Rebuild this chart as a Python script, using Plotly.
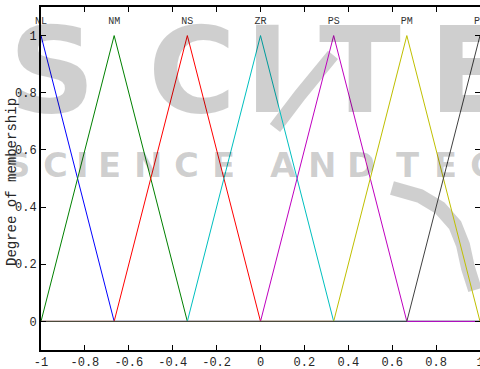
import plotly.graph_objects as go

# ---- data ----
mf_names = ["NL", "NM", "NS", "ZR", "PS", "PM", "PL"]
mf_left = [-1.3333, -1.0, -0.6667, -0.3333, 0.0, 0.3333, 0.6667]
mf_peak = [-1.0, -0.6667, -0.3333, 0.0, 0.3333, 0.6667, 1.0]
mf_right = [-0.6667, -0.3333, 0.0, 0.3333, 0.6667, 1.0, 1.3333]
mf_colors = ["#0000ff", "#008000", "#ff0000", "#00bfbf", "#bf00bf", "#bfbf00", "#404040"]

x_ticks = [-1, -0.8, -0.6, -0.4, -0.2, 0, 0.2, 0.4, 0.6, 0.8, 1]
x_tick_labels = ["-1", "-0.8", "-0.6", "-0.4", "-0.2", "0", "0.2", "0.4", "0.6", "0.8", "1"]
y_ticks = [0, 0.2, 0.4, 0.6, 0.8, 1]
y_tick_labels = ["0", "0.2", "0.4", "0.6", "0.8", "1"]
y_title = "Degree of membership"
label_height = 1.05

# watermark letters (text, pixel x, pixel y)
wm_row1 = [("S", 52, 70), ("C", 192, 70), ("I", 267, 70), ("T", 360, 70), ("E", 470, 70)]
wm_row2 = [("S", 18), ("C", 55), ("I", 82), ("E", 109), ("N", 148), ("C", 186), ("E", 223),
           ("A", 283), ("N", 322), ("D", 361), ("T", 408), ("E", 445), ("C", 482)]

W, H = 480, 369
ML, MR, MT, MB = 41, 0, 7, 19
PW, PH = W - ML - MR, H - MT - MB
WM = "rgba(0,0,0,0.19)"

def px2paper(px, py):
    return (px - ML) / PW, (H - MB - py) / PH

MONO = "Liberation Mono, Courier New, monospace"
fig = go.Figure()

for name, a, b, c, col in zip(mf_names, mf_left, mf_peak, mf_right, mf_colors):
    fig.add_trace(go.Scatter(
        x=[-1.5, a, b, c, 1.5], y=[0, 0, 1, 0, 0],
        mode="lines", line=dict(color=col, width=1), name=name,
        showlegend=False, hoverinfo="skip"))

fig.add_trace(go.Scatter(
    x=mf_peak, y=[label_height] * len(mf_peak), text=mf_names,
    mode="text", textposition="middle center", cliponaxis=False,
    textfont=dict(family=MONO, size=10, color="#333333"),
    showlegend=False, hoverinfo="skip"))

# invisible right axis to carry the mirrored ticks without an axis line
fig.add_trace(go.Scatter(x=[None], y=[None], yaxis="y2", showlegend=False, hoverinfo="skip"))

annotations = []
for ch, px, py in wm_row1:
    x, y = px2paper(px, py)
    annotations.append(dict(text=ch, x=x, y=y, xref="paper", yref="paper",
                            xanchor="center", yanchor="middle", showarrow=False,
                            font=dict(family="DejaVu Sans", size=120, color=WM, weight="bold")))
for ch, px in wm_row2:
    x, y = px2paper(px, 165)
    annotations.append(dict(text=ch, x=x, y=y, xref="paper", yref="paper",
                            xanchor="center", yanchor="middle", showarrow=False,
                            font=dict(family="DejaVu Sans", size=34, color=WM, weight="bold")))
tx, ty = px2paper(12, 182)
annotations.append(dict(text=y_title, x=tx, y=ty, xref="paper", yref="paper",
                        xanchor="center", yanchor="middle", showarrow=False, textangle=-90,
                        font=dict(family=MONO, size=14, color="#262626")))

# watermark logo strokes (decoration)
def path(pts):
    s = ""
    for i, (px, py) in enumerate(pts):
        x, y = px2paper(px, py)
        s += ("M" if i == 0 else "L") + f"{x:.4f},{y:.4f} "
    return s

shapes = [
    dict(type="path", xref="paper", yref="paper", layer="below",
         path=path([(333, 55), (300, 95), (275, 128)]), line=dict(color=WM, width=13)),
    dict(type="path", xref="paper", yref="paper", layer="below",
         path=path([(392, 188), (420, 196), (440, 208), (455, 225), (463, 245), (468, 268), (475, 290)]),
         line=dict(color=WM, width=14)),
]

axis_common = dict(ticks="inside", ticklen=5, tickwidth=1, tickcolor="black",
                   showgrid=False, zeroline=False, linecolor="black", linewidth=2,
                   automargin=False, ticklabeloverflow="allow",
                   tickfont=dict(family=MONO, size=12, color="#262626"))

fig.update_layout(
    width=W, height=H,
    margin=dict(l=ML, r=MR, t=MT, b=MB),
    paper_bgcolor="white", plot_bgcolor="rgba(0,0,0,0)",
    xaxis=dict(range=[-1, 1], tickvals=x_ticks, ticktext=x_tick_labels,
               showline=True, mirror="ticks", **axis_common),
    yaxis=dict(range=[-0.1, 1.1], tickvals=y_ticks, ticktext=y_tick_labels,
               showline=True, mirror=False, **axis_common),
    yaxis2=dict(range=[-0.1, 1.1], tickvals=y_ticks, overlaying="y", side="right",
                showticklabels=False, ticks="inside", ticklen=5, tickcolor="black",
                showline=False, showgrid=False, zeroline=False),
    annotations=annotations,
    shapes=shapes,
)

fig.write_html("out.html", config={"displayModeBar": False},
               post_script="document.body.style.margin='0';document.body.style.overflow='hidden';")
